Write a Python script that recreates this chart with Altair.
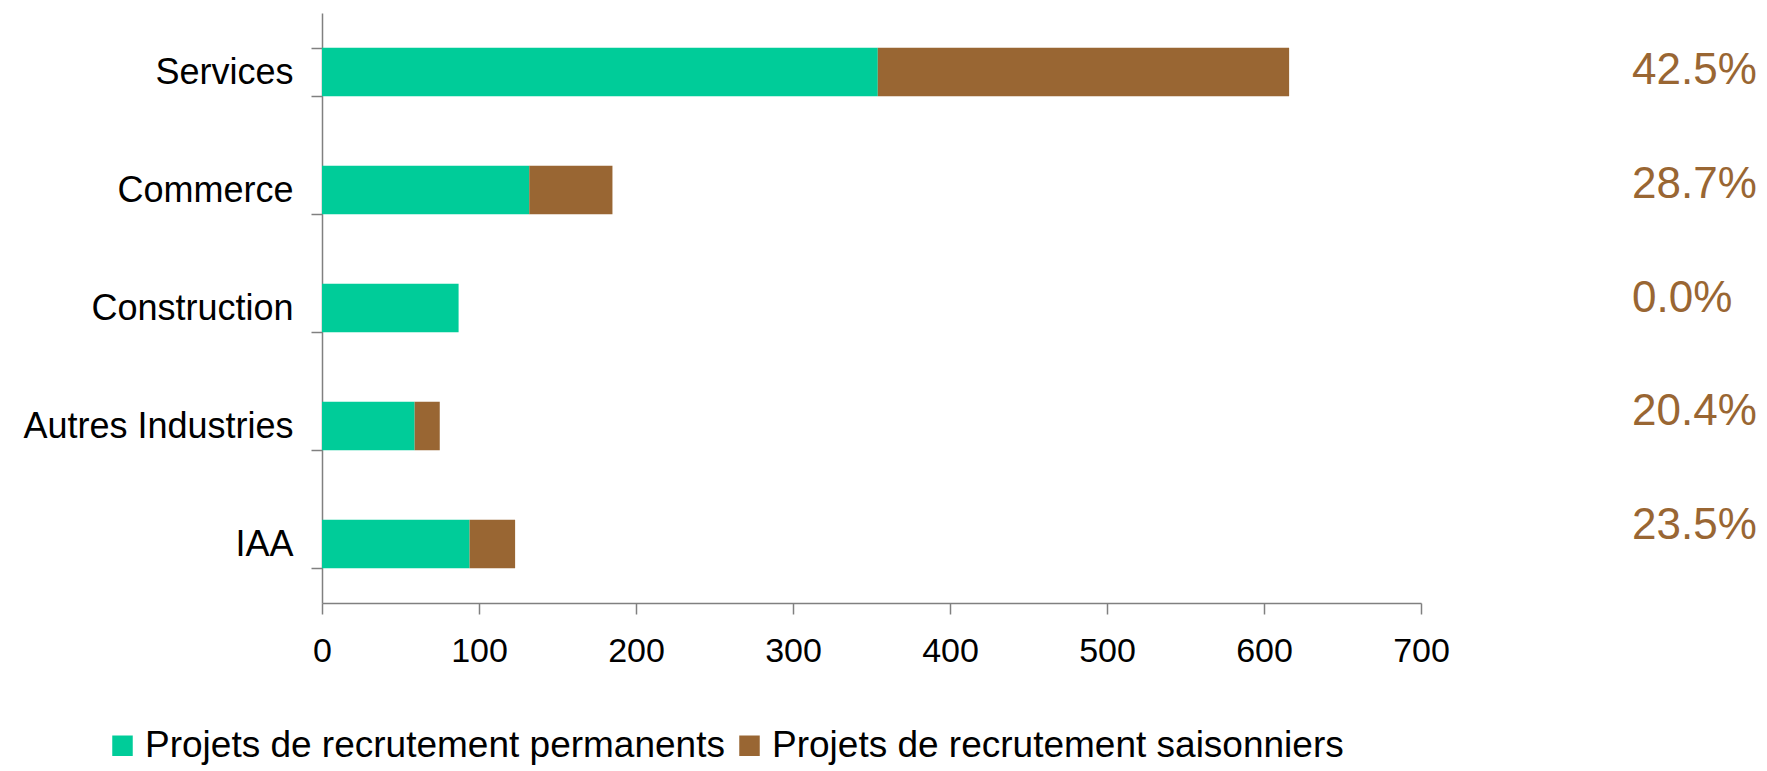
import altair as alt
import pandas as pd

# ---- data ----
categories = ["Services", "Commerce", "Construction", "Autres Industries", "IAA"]
permanents = [354, 132, 87, 59, 94]
saisonniers = [262, 53, 0, 16, 29]
pct_saisonniers = [0.425, 0.287, 0.0, 0.204, 0.235]
series_names = ["Projets de recrutement permanents", "Projets de recrutement saisonniers"]
x_ticks = [0, 100, 200, 300, 400, 500, 600, 700]

colors = ["#00CC99", "#996633"]
FONT = "Liberation Sans"

rows = []
for c, p, s in zip(categories, permanents, saisonniers):
    rows.append({"cat": c, "type": series_names[0], "val": p, "ord": 0})
    rows.append({"cat": c, "type": series_names[1], "val": s, "ord": 1})
df = pd.DataFrame(rows)
df_pct = pd.DataFrame({"cat": categories, "pct": pct_saisonniers})

W, H = 1099, 590

y_enc = alt.Y(
    "cat:N",
    sort=categories,
    title=None,
    scale=alt.Scale(paddingInner=0.59, paddingOuter=0.295),
    axis=alt.Axis(
        tickBand="extent",
        labelFontSize=36,
        labelFont=FONT,
        labelColor="#000000",
        labelPadding=18,
        labelLimit=400,
        tickSize=11,
        tickColor="#808080",
        domainColor="#808080",
        tickWidth=1.5,
        domainWidth=1.5,
    ),
)

bars = alt.Chart(df).mark_bar().encode(
    x=alt.X(
        "val:Q",
        stack="zero",
        title=None,
        scale=alt.Scale(domain=[0, 700], nice=False),
        axis=alt.Axis(
            values=x_ticks,
            grid=False,
            labelFlush=False,
            labelFontSize=34,
            labelFont=FONT,
            labelColor="#000000",
            labelPadding=20,
            tickSize=11,
            tickColor="#808080",
            domainColor="#808080",
            tickWidth=1.5,
            domainWidth=1.5,
        ),
    ),
    y=y_enc,
    color=alt.Color(
        "type:N",
        scale=alt.Scale(domain=series_names, range=colors),
        legend=alt.Legend(
            title=None,
            orient="none",
            direction="horizontal",
            legendX=-218,
            legendY=714,
            symbolType="square",
            symbolSize=420,
            symbolStrokeWidth=0,
            symbolOpacity=1,
            labelFontSize=37,
            labelFont=FONT,
            labelColor="#000000",
            labelOffset=4,
            columnPadding=6,
            labelLimit=800,
        ),
    ),
    order=alt.Order("ord:Q"),
)

# percentage column: its own point scale, slightly tighter than the bar bands
pct_text = alt.Chart(df_pct).mark_text(
    align="left",
    baseline="middle",
    fontSize=44,
    font=FONT,
    color="#996633",
).encode(
    x=alt.value(1310),
    y=alt.Y(
        "cat:N",
        sort=categories,
        axis=None,
        scale=alt.Scale(type="point", range=[58, 513], padding=0),
    ),
    text=alt.Text("pct:Q", format=".1%"),
)

chart = (
    alt.layer(bars, pct_text)
    .resolve_scale(y="independent")
    .properties(
        width=W,
        height=H,
        autosize=alt.AutoSizeParams(type="none"),
        padding={"left": 314, "top": 5, "right": 338, "bottom": 168},
        view=alt.ViewBackground(stroke="transparent", strokeWidth=0),
    )
    .configure_view(strokeWidth=0, stroke="transparent")
    .configure(background="white")
)

chart.save("out.html", embed_options={"renderer": "svg", "actions": False})
